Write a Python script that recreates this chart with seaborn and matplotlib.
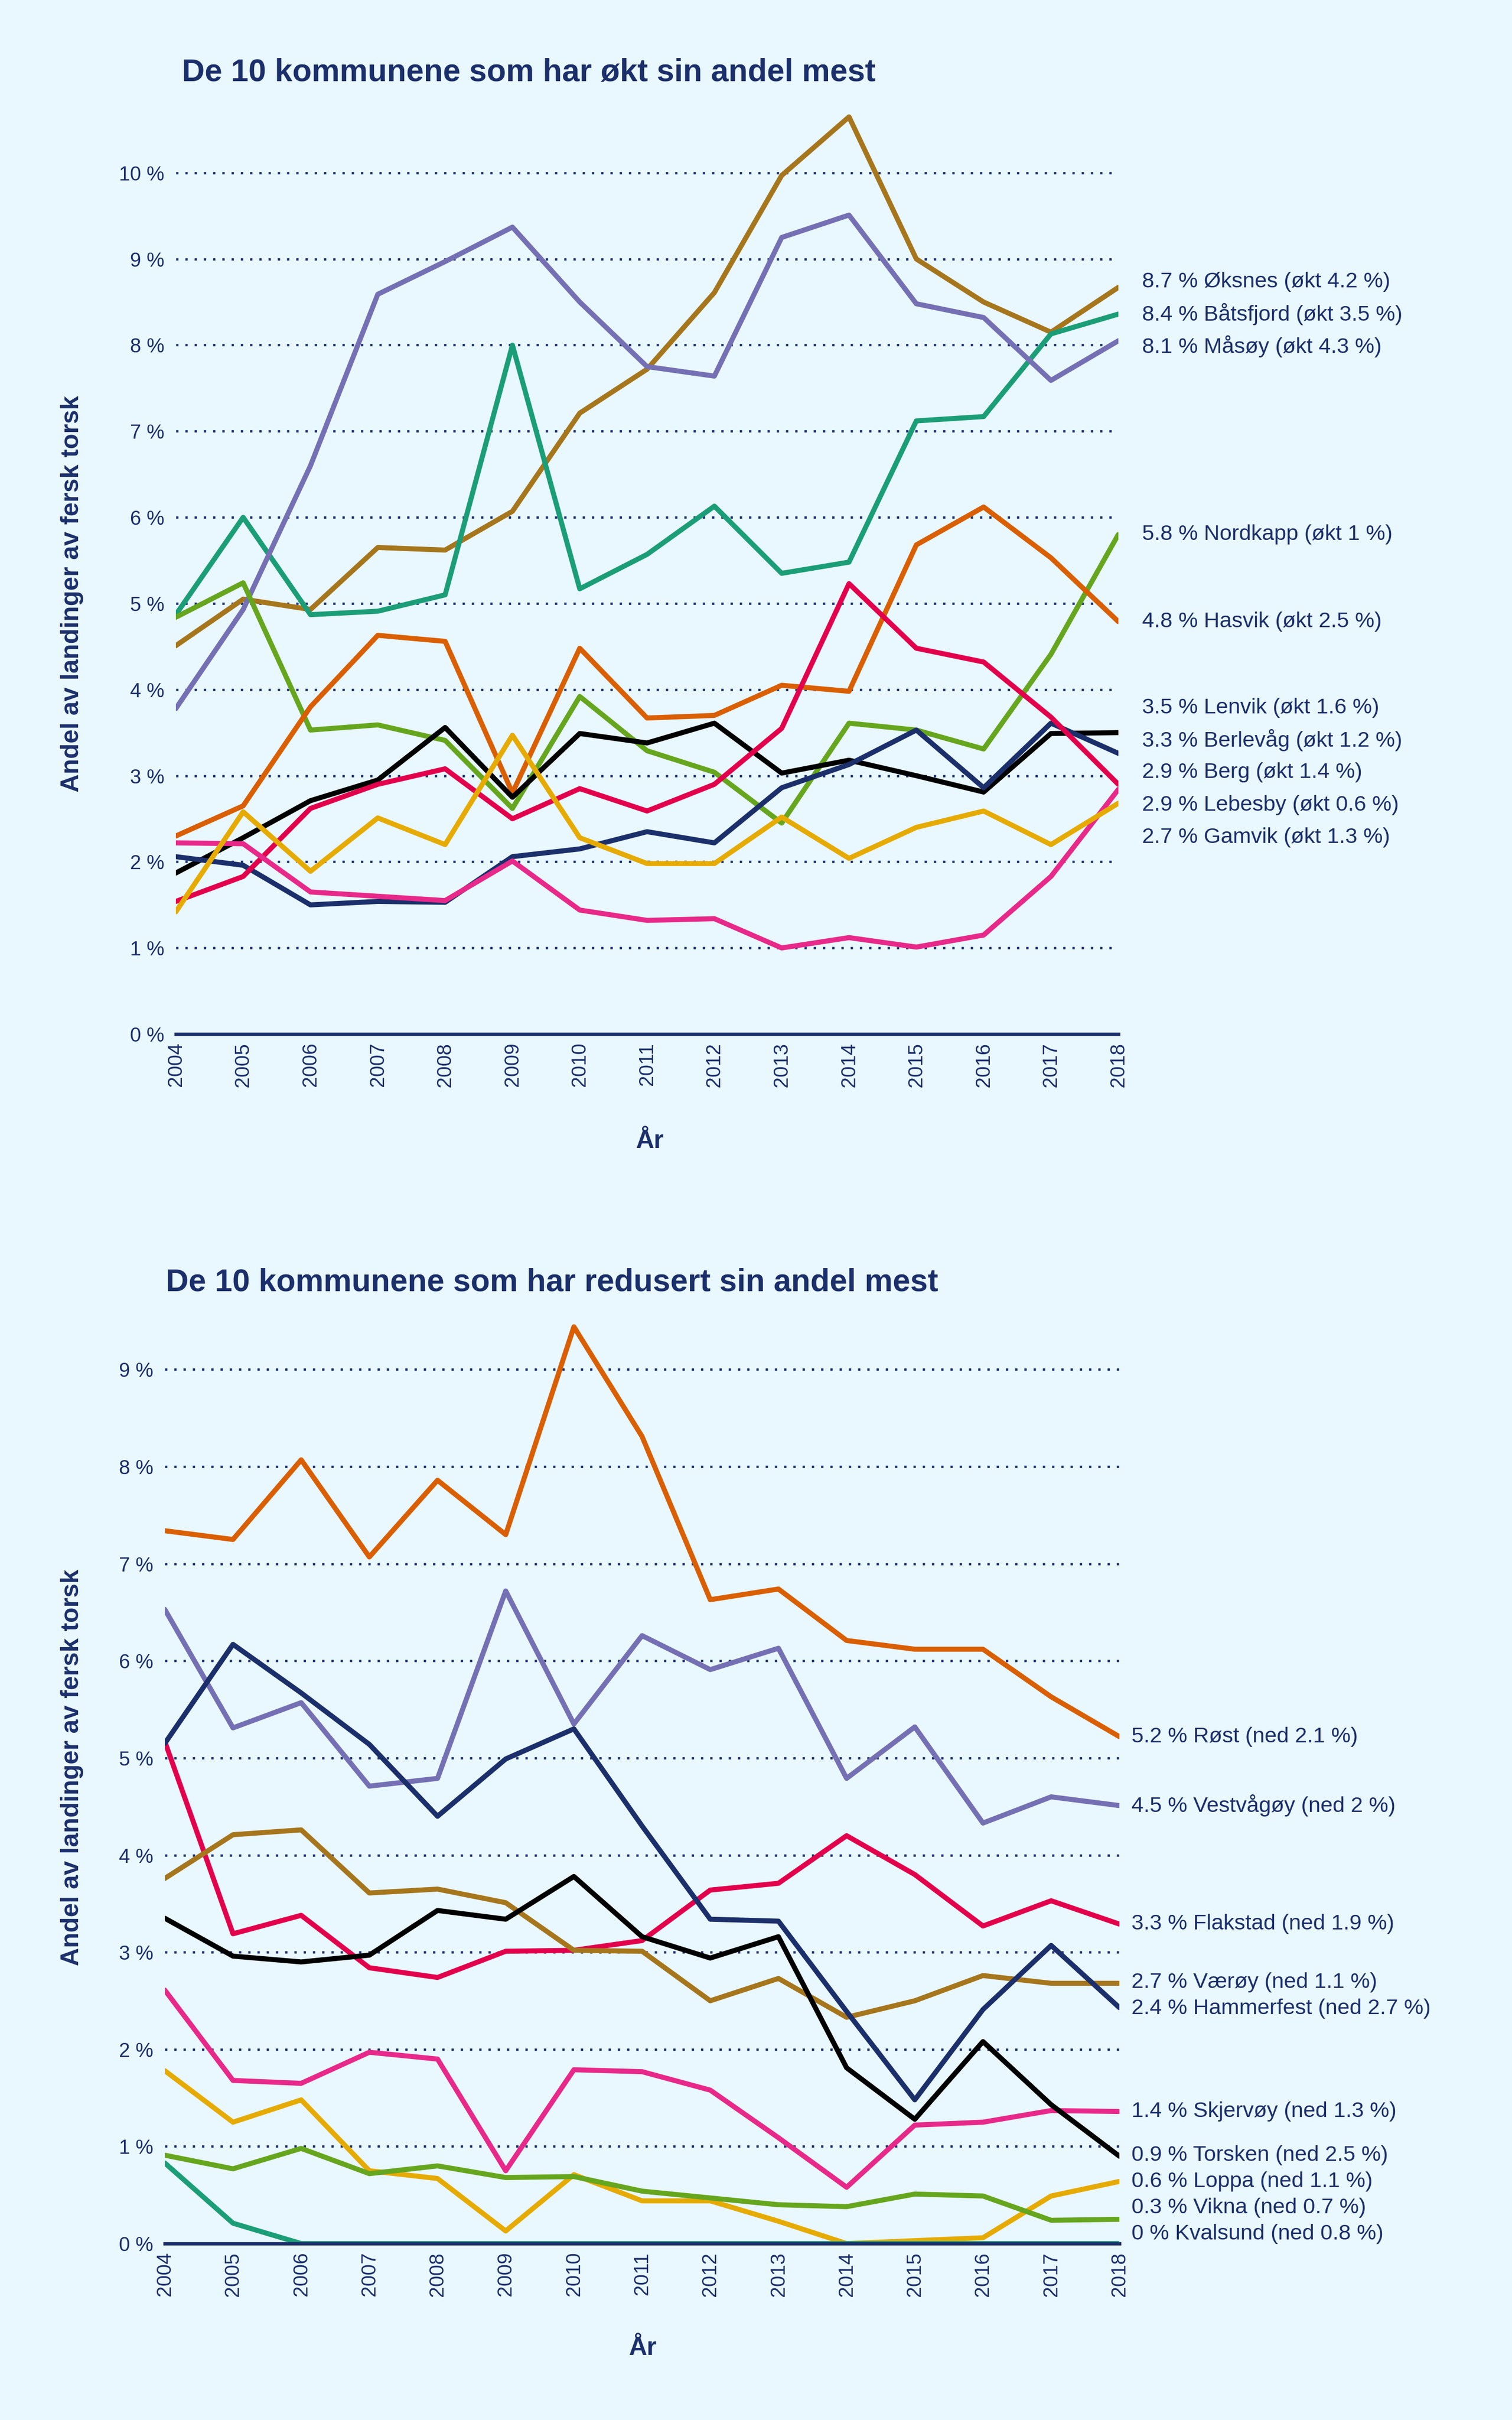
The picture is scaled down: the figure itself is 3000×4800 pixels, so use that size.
import numpy as np
import pandas as pd
import matplotlib
matplotlib.use("Agg")
import matplotlib.pyplot as plt
import seaborn as sns

# ------------------------------------------
# DATA: andel av landinger av fersk torsk (%)
# ------------------------------------------
years = list(range(2004, 2019))

# De 10 kommunene som har økt sin andel mest
oksnes    = [4.51, 5.05, 4.93, 5.65, 5.62, 6.07, 7.21, 7.72, 8.61, 9.97, 10.65, 9.00, 8.50, 8.15, 8.67]
batsfjord = [4.87, 6.00, 4.87, 4.91, 5.10, 8.00, 5.17, 5.57, 6.13, 5.35, 5.48, 7.12, 7.17, 8.13, 8.36]
masoy     = [3.78, 4.93, 6.60, 8.59, 8.97, 9.37, 8.50, 7.75, 7.64, 9.25, 9.51, 8.48, 8.32, 7.59, 8.05]
nordkapp  = [4.84, 5.24, 3.53, 3.59, 3.41, 2.62, 3.92, 3.29, 3.04, 2.45, 3.61, 3.53, 3.31, 4.41, 5.80]
hasvik    = [2.30, 2.65, 3.80, 4.63, 4.56, 2.80, 4.48, 3.67, 3.70, 4.05, 3.98, 5.68, 6.12, 5.53, 4.79]
lenvik    = [1.87, 2.28, 2.71, 2.95, 3.56, 2.75, 3.49, 3.38, 3.61, 3.03, 3.18, 3.00, 2.81, 3.49, 3.50]
berlevag  = [2.06, 1.96, 1.50, 1.54, 1.53, 2.06, 2.15, 2.35, 2.22, 2.86, 3.13, 3.53, 2.86, 3.61, 3.26]
berg      = [1.54, 1.83, 2.62, 2.90, 3.08, 2.50, 2.85, 2.59, 2.90, 3.55, 5.23, 4.48, 4.32, 3.68, 2.90]
lebesby   = [2.22, 2.21, 1.65, 1.60, 1.55, 2.01, 1.44, 1.32, 1.34, 1.00, 1.12, 1.01, 1.15, 1.83, 2.84]
gamvik    = [1.42, 2.58, 1.89, 2.51, 2.20, 3.47, 2.28, 1.98, 1.98, 2.52, 2.04, 2.40, 2.59, 2.20, 2.68]

top_names = ["Øksnes", "Båtsfjord", "Måsøy", "Nordkapp", "Hasvik",
             "Lenvik", "Berlevåg", "Berg", "Lebesby", "Gamvik"]
top_series = [oksnes, batsfjord, masoy, nordkapp, hasvik,
              lenvik, berlevag, berg, lebesby, gamvik]
top_labels = ["8.7 % Øksnes (økt 4.2 %)", "8.4 % Båtsfjord (økt 3.5 %)",
              "8.1 % Måsøy (økt 4.3 %)", "5.8 % Nordkapp (økt 1 %)",
              "4.8 % Hasvik (økt 2.5 %)", "3.5 % Lenvik (økt 1.6 %)",
              "3.3 % Berlevåg (økt 1.2 %)", "2.9 % Berg (økt 1.4 %)",
              "2.9 % Lebesby (økt 0.6 %)", "2.7 % Gamvik (økt 1.3 %)"]

# De 10 kommunene som har redusert sin andel mest
rost       = [7.34, 7.25, 8.07, 7.07, 7.86, 7.30, 9.44, 8.31, 6.63, 6.74, 6.21, 6.12, 6.12, 5.63, 5.22]
vestvagoy  = [6.53, 5.31, 5.57, 4.71, 4.79, 6.72, 5.35, 6.26, 5.91, 6.13, 4.79, 5.32, 4.33, 4.60, 4.51]
flakstad   = [5.17, 3.19, 3.38, 2.84, 2.74, 3.01, 3.02, 3.12, 3.64, 3.71, 4.20, 3.80, 3.27, 3.53, 3.29]
varoy      = [3.76, 4.21, 4.26, 3.61, 3.65, 3.51, 3.02, 3.01, 2.50, 2.73, 2.33, 2.50, 2.76, 2.68, 2.68]
hammerfest = [5.15, 6.17, 5.67, 5.14, 4.40, 4.99, 5.30, 4.30, 3.34, 3.32, 2.39, 1.48, 2.41, 3.07, 2.43]
skjervoy   = [2.61, 1.68, 1.65, 1.97, 1.90, 0.75, 1.79, 1.77, 1.58, 1.09, 0.58, 1.22, 1.25, 1.37, 1.36]
torsken    = [3.35, 2.96, 2.90, 2.97, 3.43, 3.34, 3.78, 3.16, 2.94, 3.16, 1.81, 1.28, 2.08, 1.43, 0.90]
loppa      = [1.78, 1.25, 1.48, 0.75, 0.67, 0.13, 0.71, 0.44, 0.44, 0.23, 0.00, 0.03, 0.06, 0.49, 0.64]
vikna      = [0.91, 0.77, 0.98, 0.72, 0.80, 0.68, 0.69, 0.54, 0.47, 0.40, 0.38, 0.51, 0.49, 0.24, 0.25]
kvalsund   = [0.83, 0.21, 0.00, 0.00, 0.00, 0.00, 0.00, 0.00, 0.00, 0.00, 0.00, 0.00, 0.00, 0.00, 0.00]

bot_names = ["Røst", "Vestvågøy", "Flakstad", "Værøy", "Hammerfest",
             "Skjervøy", "Torsken", "Loppa", "Vikna", "Kvalsund"]
bot_series = [rost, vestvagoy, flakstad, varoy, hammerfest,
              skjervoy, torsken, loppa, vikna, kvalsund]
bot_labels = ["5.2 % Røst (ned 2.1 %)", "4.5 % Vestvågøy (ned 2 %)",
              "3.3 % Flakstad (ned 1.9 %)", "2.7 % Værøy (ned 1.1 %)",
              "2.4 % Hammerfest (ned 2.7 %)", "1.4 % Skjervøy (ned 1.3 %)",
              "0.9 % Torsken (ned 2.5 %)", "0.6 % Loppa (ned 1.1 %)",
              "0.3 % Vikna (ned 0.7 %)", "0 % Kvalsund (ned 0.8 %)"]

# ------------------------------------------
# STYLE
# ------------------------------------------
NAVY = "#1b2f6b"
BG = "#e9f7fe"
BROWN, TEAL, PURPLE, GREEN = "#a6761d", "#1b9e77", "#7570b3", "#66a61e"
ORANGE, BLACK, CRIMSON, PINK, YELLOW = "#d95f02", "#000000", "#e2004c", "#e7298a", "#e6ab02"

top_colors = [BROWN, TEAL, PURPLE, GREEN, ORANGE, BLACK, NAVY, CRIMSON, PINK, YELLOW]
bot_colors = [ORANGE, PURPLE, CRIMSON, BROWN, NAVY, PINK, BLACK, YELLOW, GREEN, TEAL]

sns.set_theme(style="white")
plt.rcParams["font.family"] = ["Liberation Sans", "DejaVu Sans"]


def long_df(names, series):
    rows = []
    for name, vals in zip(names, series):
        for yr, v in zip(years, vals):
            rows.append({"År": yr, "Andel": v, "Kommune": name})
    return pd.DataFrame(rows)


def spread(values, gap, lo):
    """simple label repel: keep labels at least `gap` apart, above `lo`"""
    order = np.argsort(values)
    pos = np.array(values, dtype=float)[order]
    for _ in range(500):
        pos[0] = max(pos[0], lo)
        for i in range(1, len(pos)):
            d = pos[i] - pos[i - 1]
            if d < gap:
                s = (gap - d) / 2
                pos[i - 1] -= s
                pos[i] += s
    pos[0] = max(pos[0], lo)
    for i in range(1, len(pos)):
        pos[i] = max(pos[i], pos[i - 1] + gap * 0.999)
    out = np.empty_like(pos)
    out[order] = pos
    return out


def draw_panel(ax, names, series, colors, labels, ymax, nticks, gap, lo, xoff):
    df = long_df(names, series)
    sns.lineplot(data=df, x="År", y="Andel", hue="Kommune", hue_order=names,
                 palette=dict(zip(names, colors)), linewidth=2.4,
                 legend=False, ax=ax, zorder=3)
    ax.set_facecolor(BG)
    ax.set_xlim(2004, 2018)
    ax.set_ylim(0, ymax)
    ax.set_xticks(years)
    ax.set_xticklabels([str(y) for y in years], rotation=90, va="top",
                       ha="center", color=NAVY, fontsize=9.5)
    ticks = list(range(0, nticks + 1))
    ax.set_yticks(ticks)
    ax.set_yticklabels([f"{t} %" for t in ticks], color=NAVY, fontsize=9.5)
    ax.tick_params(axis="both", length=0)
    ax.tick_params(axis="x", pad=4)
    ax.tick_params(axis="y", pad=5.5)
    ax.yaxis.grid(True, color=NAVY, linestyle=(0, (1, 3)), linewidth=1.1)
    ax.xaxis.grid(False)
    for side in ["top", "right", "left"]:
        ax.spines[side].set_visible(False)
    ax.spines["bottom"].set_color(NAVY)
    ax.spines["bottom"].set_linewidth(1.6)
    ax.spines["bottom"].set_zorder(4)

    ends = [s[-1] for s in series]
    ypos = spread(ends, gap, lo)
    for lab, yp in zip(labels, ypos):
        ax.text(2018 + xoff, yp, lab, ha="left", va="center",
                color=NAVY, fontsize=10.4, clip_on=False)

    ax.set_xlabel("År", color=NAVY, fontsize=12, fontweight="bold")
    ax.set_ylabel("Andel av landinger av fersk torsk", color=NAVY,
                  fontsize=12, fontweight="bold")


fig = plt.figure(figsize=(10, 16), dpi=300, facecolor=BG)

# top panel
ax1 = fig.add_axes([0.1163, 0.5727, 0.6233, 0.3879])
draw_panel(ax1, top_names, top_series, top_colors, top_labels,
           ymax=10.9, nticks=10, gap=0.376, lo=0.1, xoff=0.35)
ax1.xaxis.set_label_coords(0.503, -0.102)
ax1.yaxis.set_label_coords(-0.098, 0.469)
fig.text(361 / 3000, 1 - 144 / 4800, "De 10 kommunene som har økt sin andel mest",
         color=NAVY, fontsize=15, fontweight="bold", ha="left", va="center")

# bottom panel
ax2 = fig.add_axes([0.109, 0.0729, 0.6313, 0.3973])
draw_panel(ax2, bot_names, bot_series, bot_colors, bot_labels,
           ymax=9.9, nticks=9, gap=0.27, lo=0.10, xoff=0.18)
ax2.xaxis.set_label_coords(0.501, -0.097)
ax2.yaxis.set_label_coords(-0.085, 0.495)
fig.text(329 / 3000, 1 - 2544 / 4800, "De 10 kommunene som har redusert sin andel mest",
         color=NAVY, fontsize=15, fontweight="bold", ha="left", va="center")

fig.savefig("out.png", dpi=300, facecolor=BG)
